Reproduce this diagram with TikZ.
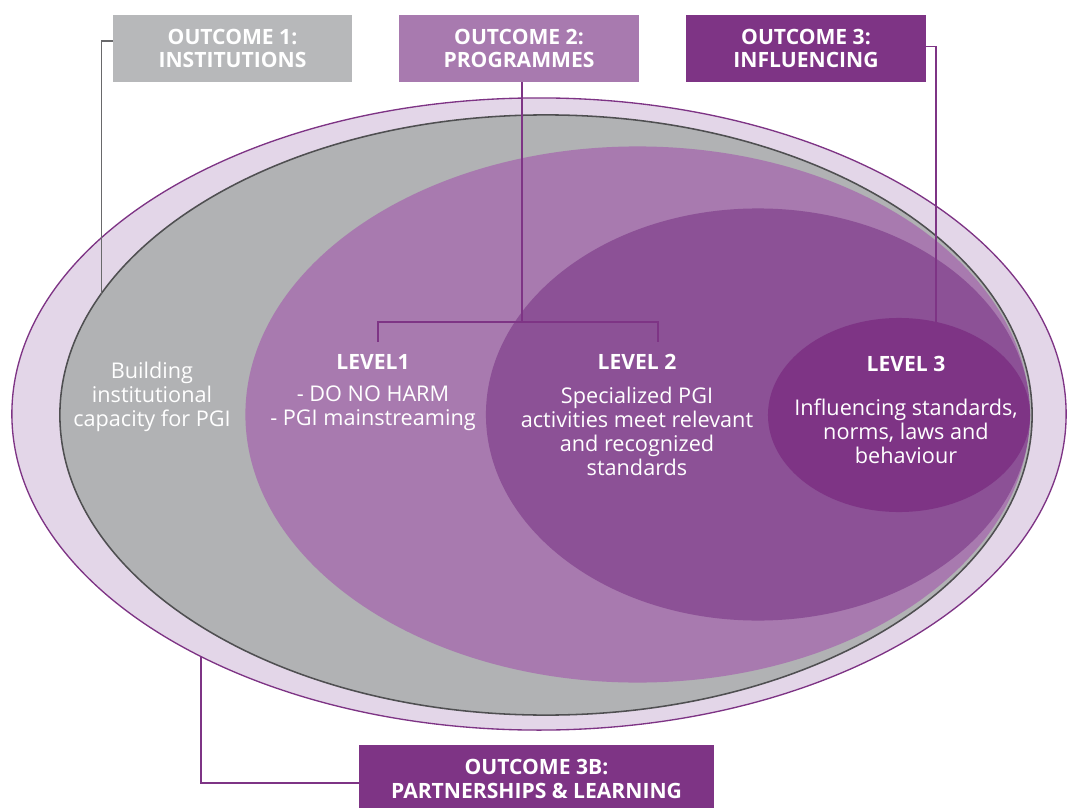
\documentclass[tikz,border=0pt]{standalone}
\usepackage{fontspec}
\setmainfont{Open Sans}
\definecolor{outerfill}{HTML}{E3D6E8}
\definecolor{pgipurple}{HTML}{7E3485}
\definecolor{progpurple}{HTML}{A87AAF}
\definecolor{lvtwopurple}{HTML}{8C5196}
\definecolor{instgray}{HTML}{B1B2B4}
\definecolor{boxgray}{HTML}{B7B8BA}
\definecolor{edgegray}{HTML}{4F4F51}
\definecolor{linkgray}{HTML}{69696B}
\tikzset{
  outbox/.style={fill=#1, text=white, font=\bfseries\fontsize{15}{17}\selectfont,
    align=center, minimum height=1.675cm, inner sep=0pt},
  headtext/.style={text=white, font=\bfseries\fontsize{15}{17}\selectfont, align=center, inner sep=0pt},
  bodytext/.style={text=white, font=\fontsize{15.4}{17}\selectfont, align=center, inner sep=0pt},
  pline/.style={draw=pgipurple, line width=0.8pt},
  gline/.style={draw=linkgray, line width=0.9pt}
}
\begin{document}
\begin{tikzpicture}[x=0.025cm, y=-0.025cm]
		\useasboundingbox (0,0) rectangle (1067,808);
		% 楕円の中心
		\coordinate (outer_c) at (539, 414);
		\coordinate (inst_c) at (546, 415);
		\coordinate (prog_c) at (637.5, 414.5);
		\coordinate (lvtwo_c) at (758, 414.5);
		\coordinate (lvthree_c) at (899, 415);
		% 接続線の端点
		\coordinate (o1_end) at (101.6, 293.5);
		\coordinate (bus) at (522, 322);
		\coordinate (l1_top) at (378, 342);
		\coordinate (l2_top) at (658, 342);
		\coordinate (o3_end) at (936, 322);
		\coordinate (o3b_end) at (201, 656);
		% 楕円の描画
		\draw[fill=outerfill, draw=pgipurple, line width=0.95pt] (outer_c) ellipse [x radius=13.175cm, y radius=7.9cm];
		\fill[instgray] (inst_c) ellipse [x radius=12.15cm, y radius=7.5cm];
		\begin{scope}
			\clip (inst_c) ellipse [x radius=12.15cm, y radius=7.5cm];
			\fill[progpurple] (prog_c) ellipse [x radius=9.8cm, y radius=6.7cm];
			\fill[lvtwopurple] (lvtwo_c) ellipse [x radius=6.8cm, y radius=5.15cm];
			\fill[pgipurple] (lvthree_c) ellipse [x radius=3.275cm, y radius=2.425cm];
		\end{scope}
		\draw[edgegray, line width=1.1pt] (inst_c) ellipse [x radius=12.15cm, y radius=7.5cm];
		% 見出しの箱
		\node[outbox=boxgray, minimum width=5.975cm] (out1) at (232.5, 48.5) {OUTCOME 1:\\INSTITUTIONS};
		\node[outbox=progpurple, minimum width=6cm] (out2) at (519, 48.5) {OUTCOME 2:\\PROGRAMMES};
		\node[outbox=pgipurple, minimum width=6cm] (out3) at (806, 48.5) {OUTCOME 3:\\INFLUENCING};
		\node[outbox=pgipurple, minimum width=8.875cm] (out3b) at (536.5, 779) {OUTCOME 3B:\\PARTNERSHIPS \& LEARNING};
		% 線の描画
		\draw[gline] ([yshift=0.19cm]out1.west) -| (o1_end);
		\draw[pline] (bus |- out2.south) -- (bus);
		\draw[pline] (l1_top) |- (bus) -| (l2_top);
		\draw[pline] ([yshift=0.04cm]out3.east) -| (o3_end);
		\draw[pline] ([yshift=-0.1cm]out3b.west) -| (o3b_end);
		% 文字
		\node[bodytext] (inst_txt) at (152, 397) {Building\\institutional\\capacity for PGI};
		\node[headtext] (lv1) at (373, 362) {LEVEL1};
		\node[bodytext] (lv1_txt) at (373, 408) {- DO NO HARM\\- PGI mainstreaming};
		\node[headtext] (lv2) at (637, 362) {LEVEL 2};
		\node[bodytext] (lv2_txt) at (637, 431.5) {Specialized PGI\\activities meet relevant\\and recognized\\standards};
		\node[headtext] (lv3) at (906, 364) {LEVEL 3};
		\node[bodytext] (lv3_txt) at (906, 431) {Influencing standards,\\norms, laws and\\behaviour};
	\end{tikzpicture}
\end{document}
